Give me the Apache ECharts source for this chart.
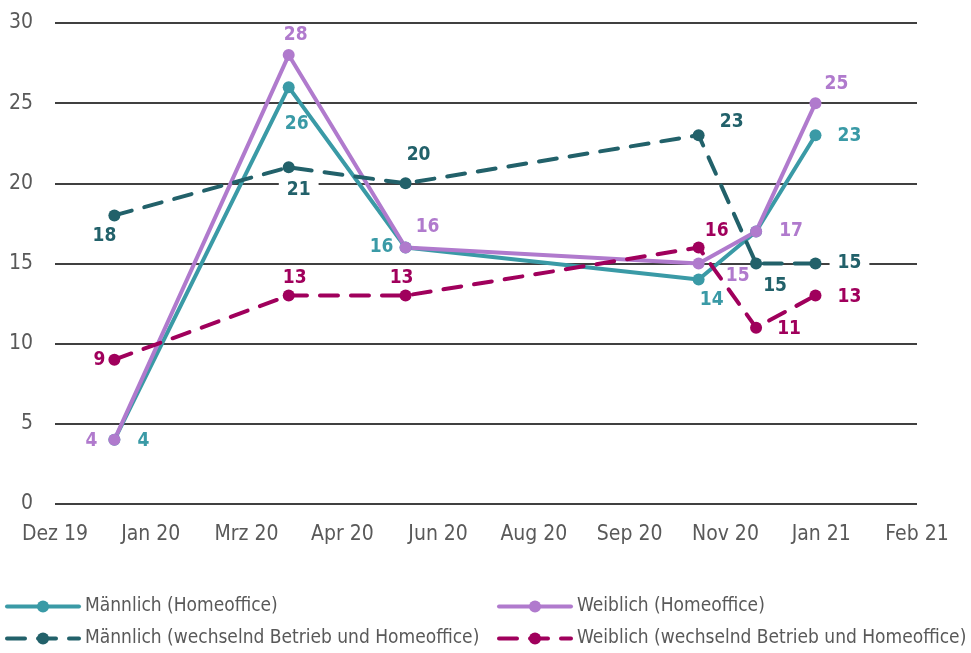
<!DOCTYPE html>
<html>
<head>
  <meta charset="utf-8" />
</head>
<body style="margin: 0">
  <div id="main" style="width: 971px; height: 653px"></div>
  <script src="https://cdn.jsdelivr.net/npm/echarts@6/dist/echarts.min.js"></script>
  <script>
    // Stichtage der Erhebung
    var dates = ["2020-01-01", "2020-04-01", "2020-06-01", "2020-11-01", "2020-12-01", "2021-01-01"];
    // Achsenbeschriftung (alle 50 Tage ab 01.12.2019)
    var tickLabels = ["Dez 19", "Jan 20", "Mrz 20", "Apr 20", "Jun 20", "Aug 20", "Sep 20", "Nov 20", "Jan 21", "Feb 21"];

    var maennlichHO = [4, 26, 16, 14, 17, 23];
    var weiblichHO = [4, 28, 16, 15, 17, 25];
    var maennlichW = [18, 21, 20, 23, 15, 15];
    var weiblichW = [9, 13, 13, 16, 11, 13];

    var names = [
      "Männlich (Homeoffice)",
      "Weiblich (Homeoffice)",
      "Männlich (wechselnd Betrieb und Homeoffice)",
      "Weiblich (wechselnd Betrieb und Homeoffice)"
    ];

    // Verschiebung der Datenbeschriftungen (null = ausgeblendet)
    var offM = [[29, 1], [8, 37], [-24, 0], [13, 21], null, [34, 1]];
    var offW = [[-23, 1], [7, -20], [22, -20], [39, 13], [35, 0], [21, -19]];
    var offMW = [[-10, 21], [10, 23], [13, -28], [33, -13], [19, 23], [34, 0]];
    var offWW = [[-15, 0], [6, -18], [-4, -18], [18, -16], [33, 1], [34, 1]];

    var start = Date.UTC(2019, 11, 1);
    function day(d) {
      var p = d.split("-");
      return (Date.UTC(+p[0], +p[1] - 1, +p[2]) - start) / 86400000;
    }

    var font = "'DejaVu Sans Condensed', 'Liberation Sans', sans-serif";

    function makeSeries(name, values, offs, color, dashed, labelBg) {
      return {
        name: name,
        type: "line",
        symbol: "circle",
        symbolSize: 12,
        itemStyle: { color: color },
        lineStyle: { color: color, width: 4, type: dashed ? [18, 13] : "solid", cap: "round" },
        data: values.map(function (v, i) {
          var o = offs[i];
          return {
            value: [day(dates[i]), v],
            label: o
              ? {
                  show: true,
                  position: "inside",
                  offset: o,
                  color: color,
                  fontFamily: font,
                  fontWeight: "bold",
                  fontSize: 19,
                  backgroundColor: labelBg ? "#fff" : "transparent",
                  padding: labelBg ? [1, 8] : 0,
                  formatter: "{@[1]}"
                }
              : { show: false }
          };
        })
      };
    }

    function makeLegend(name, left, top) {
      return {
        data: [name],
        left: left,
        top: top,
        itemWidth: 72,
        itemHeight: 15,
        padding: 0,
        lineStyle: { width: 4, cap: "round" },
        textStyle: { color: "#595959", fontFamily: font, fontSize: 19, padding: [0, 0, 0, 1] }
      };
    }

    var myChart = echarts.init(document.getElementById("main"));
    var option = {
      animation: false,
      backgroundColor: "#fff",
      grid: { left: 55, right: 54, top: 23, bottom: 149 },
      xAxis: {
        type: "value",
        min: 0,
        max: 450,
        interval: 50,
        axisLine: { show: false },
        axisTick: { show: false },
        splitLine: { show: false },
        axisLabel: {
          color: "#595959",
          fontFamily: font,
          fontSize: 21,
          margin: 20,
          formatter: function (v) {
            return tickLabels[Math.round(v / 50)];
          }
        }
      },
      yAxis: {
        type: "value",
        min: 0,
        max: 30,
        interval: 5,
        axisLine: { show: false },
        axisTick: { show: false },
        splitLine: { lineStyle: { color: "#000", width: 1.5 } },
        axisLabel: { color: "#595959", fontFamily: font, fontSize: 21, margin: 22 }
      },
      legend: [
        makeLegend(names[0], 5, 597),
        makeLegend(names[2], 5, 629),
        makeLegend(names[1], 497, 597),
        makeLegend(names[3], 497, 629)
      ],
      series: [
        makeSeries(names[0], maennlichHO, offM, "#3a9aa6", false, false),
        makeSeries(names[1], weiblichHO, offW, "#b07acd", false, false),
        makeSeries(names[2], maennlichW, offMW, "#22616a", true, true),
        makeSeries(names[3], weiblichW, offWW, "#a0005c", true, false)
      ]
    };
    myChart.setOption(option);
  </script>
</body>
</html>
